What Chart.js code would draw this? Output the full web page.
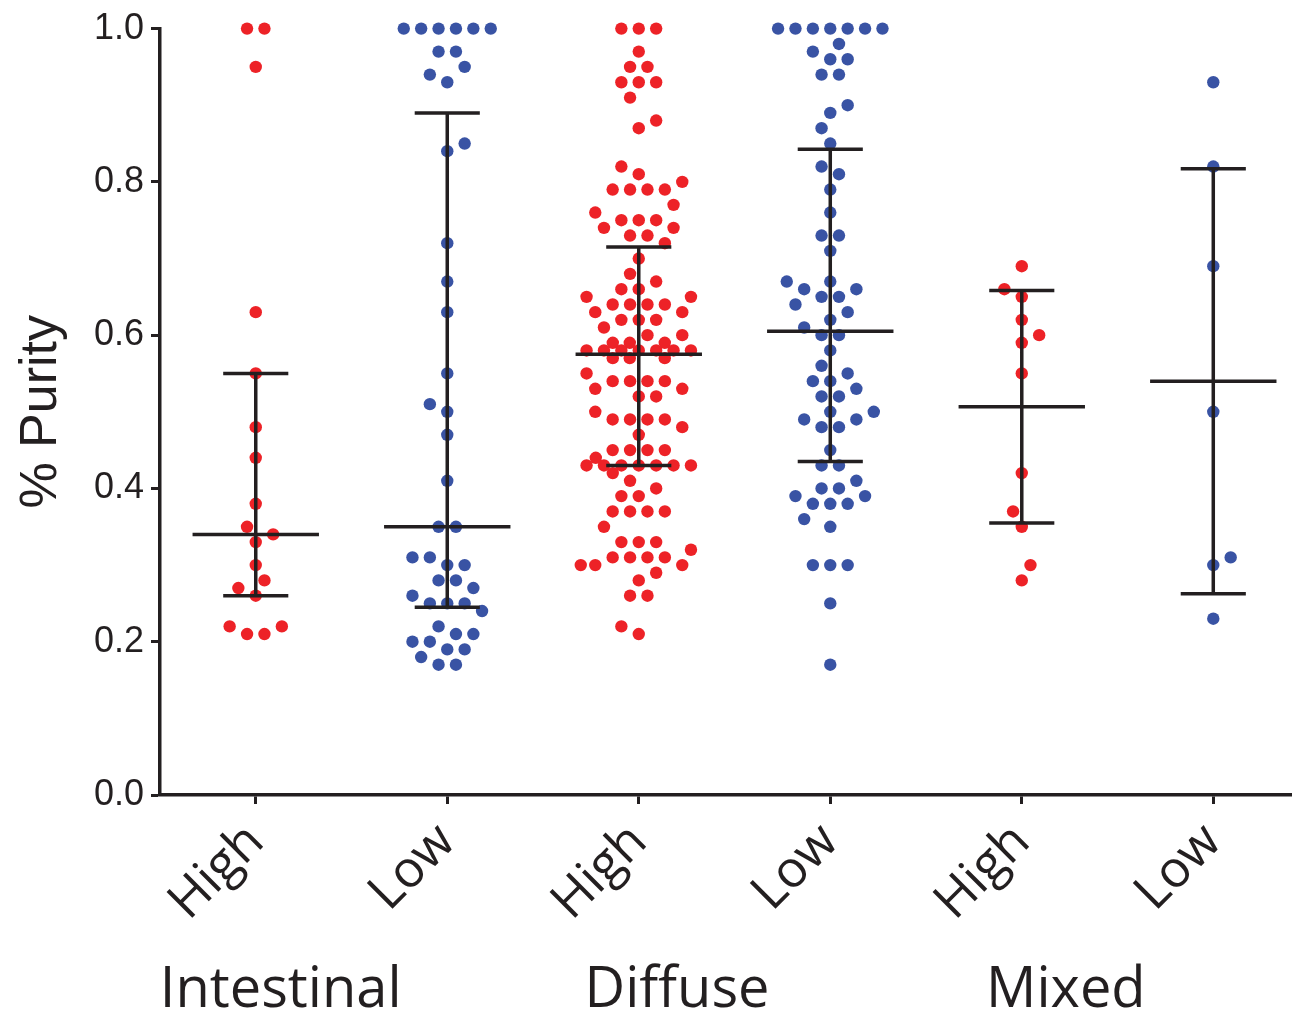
<!DOCTYPE html>
<html>
<head>
<meta charset="utf-8">
<title>% Purity by subtype</title>
<script src="https://cdn.jsdelivr.net/npm/chart.js@4.4.1/dist/chart.umd.min.js"></script>
<style>
  html, body { margin: 0; padding: 0; background: #fff; }
  #wrap { position: relative; width: 1298px; height: 1016px; }
</style>
</head>
<body>
<div id="wrap"><canvas id="chart"></canvas></div>
<script>
// categories on the x axis and the subtype each pair belongs to
const categories = ["High", "Low", "High", "Low", "High", "Low"];
const groupNames = ["Intestinal", "Diffuse", "Mixed"];
const yTicks = [0, 0.2, 0.4, 0.6, 0.8, 1.0];

// % purity, one value per sample
const intestinalHigh = [1.0, 1.0, 0.95, 0.63, 0.55, 0.48, 0.44, 0.38, 0.35, 0.34, 0.33,
  0.30, 0.28, 0.27, 0.26, 0.22, 0.22, 0.21, 0.21];
const intestinalLow = [1.0, 1.0, 1.0, 1.0, 1.0, 1.0, 0.97, 0.97, 0.95, 0.94, 0.93, 0.85,
  0.84, 0.72, 0.67, 0.63, 0.55, 0.51, 0.50, 0.47, 0.41, 0.35, 0.35, 0.31, 0.31, 0.30,
  0.30, 0.28, 0.28, 0.27, 0.26, 0.25, 0.25, 0.25, 0.24, 0.22, 0.21, 0.21, 0.20, 0.20,
  0.19, 0.19, 0.18, 0.17, 0.17];
const diffuseHigh = [1.0, 1.0, 1.0, 0.97, 0.95, 0.95, 0.93, 0.93, 0.93, 0.91, 0.88, 0.87,
  0.82, 0.81, 0.80, 0.79, 0.79, 0.79, 0.79, 0.77, 0.76, 0.75, 0.75, 0.75, 0.74, 0.74,
  0.73, 0.73, 0.72, 0.70, 0.68, 0.67, 0.66, 0.66, 0.65, 0.65, 0.64, 0.64, 0.64, 0.64,
  0.63, 0.63, 0.62, 0.62, 0.62, 0.61, 0.60, 0.60, 0.59, 0.59, 0.59,
  0.58, 0.58, 0.58, 0.58, 0.58, 0.58, 0.58, 0.57, 0.57, 0.57, 0.55, 0.54, 0.54, 0.54,
  0.54, 0.53, 0.53, 0.52, 0.52, 0.50, 0.49, 0.49, 0.49, 0.49, 0.48, 0.47, 0.45, 0.45,
  0.45, 0.45, 0.44, 0.43, 0.43, 0.43, 0.43, 0.43, 0.43, 0.43, 0.42, 0.41, 0.40, 0.39,
  0.39, 0.37, 0.37, 0.37, 0.37, 0.35, 0.33, 0.33, 0.33, 0.32, 0.31, 0.31, 0.31, 0.31,
  0.30, 0.30, 0.30, 0.29, 0.28, 0.26, 0.26, 0.22, 0.21];
const diffuseLow = [1.0, 1.0, 1.0, 1.0, 1.0, 1.0, 1.0, 0.98, 0.97, 0.96, 0.96, 0.94, 0.94,
  0.90, 0.89, 0.87, 0.85, 0.82, 0.81, 0.79, 0.76, 0.73, 0.73, 0.71, 0.67, 0.67, 0.66,
  0.66, 0.65, 0.65, 0.64, 0.63, 0.62, 0.61, 0.60, 0.60, 0.58, 0.56, 0.55, 0.54, 0.54,
  0.53, 0.52, 0.52, 0.50, 0.50, 0.49, 0.49, 0.48, 0.48, 0.45, 0.43, 0.43, 0.41, 0.40,
  0.40, 0.39, 0.39, 0.38, 0.38, 0.38, 0.36, 0.35, 0.30, 0.30, 0.30, 0.25, 0.17];
const mixedHigh = [0.69, 0.66, 0.65, 0.62, 0.60, 0.59, 0.55, 0.42, 0.37, 0.35, 0.30, 0.28];
const mixedLow = [0.93, 0.82, 0.69, 0.50, 0.31, 0.30, 0.23];

const series = [intestinalHigh, intestinalLow, diffuseHigh, diffuseLow, mixedHigh, mixedLow];
// the figure shows median + IQR for the first two subtypes, mean + SD for Mixed
const summaryKind = ["median", "median", "median", "median", "mean", "mean"];

const RED = "#ed2227";
const BLUE = "#3953a4";
const INK = "#231f20";
const dotColors = [RED, BLUE, RED, BLUE, RED, BLUE];

const DOT_R = 6.2;
const DOT_STEP = 17.4;   // centre-to-centre spacing of touching dots, px
const MAX_HALF = 58;     // widest a swarm may get either side of its tick, px
const MID_HALF = 0.33;   // half width of the centre line, category units
const CAP_HALF = 0.17;   // half width of the whisker caps

function quantile(asc, p) {
    const n = asc.length;
    const pos = (n + 1) * p;
    const lo = Math.floor(pos);
    if (lo < 1) return asc[0];
    if (lo >= n) return asc[n - 1];
    return asc[lo - 1] + (pos - lo) * (asc[lo] - asc[lo - 1]);
}

function summarize(values, kind) {
    const asc = [...values].sort((a, b) => a - b);
    if (kind === "mean") {
        const m = asc.reduce((s, v) => s + v, 0) / asc.length;
        const sd = Math.sqrt(asc.reduce((s, v) => s + (v - m) ** 2, 0) / (asc.length - 1));
        return { mid: m, lo: m - sd, hi: m + sd };
    }
    return { mid: quantile(asc, 0.5), lo: quantile(asc, 0.25), hi: quantile(asc, 0.75) };
}

// beeswarm: pixel offsets from the column centre so dots do not overlap
function swarmOffsets(pys) {
    const half = DOT_STEP / 2;
    const ids = pys.map((_, i) => i).sort((a, b) => pys[b] - pys[a]);
    const runs = [];
    for (const id of ids) {
        const last = runs[runs.length - 1];
        if (last && Math.abs(pys[last[0]] - pys[id]) < 0.5) last.push(id);
        else runs.push([id]);
    }
    runs.sort((a, b) => b.length - a.length || pys[b[0]] - pys[a[0]]);

    const placed = [];
    const out = new Array(pys.length).fill(0);
    let side = 1;
    const clear = (x, y) => placed.every((p) => Math.hypot(p.x - x, p.y - y) >= DOT_STEP - 0.5);

    for (const run of runs) {
        const y = pys[run[0]];
        const block = run.map((_, t) => (t - (run.length - 1) / 2) * DOT_STEP);
        if (run.length > 1 && block[block.length - 1] <= MAX_HALF && block.every((x) => clear(x, y))) {
            run.forEach((id, t) => {
                out[id] = block[t];
                placed.push({ x: block[t], y });
            });
            continue;
        }
        for (const id of run) {
            let x = null;
            for (let s = 0; s * half <= MAX_HALF && x === null; s++) {
                const cands = s === 0 ? [0] : [side * s * half, -side * s * half];
                const ok = cands.filter((c) => clear(c, y));
                if (ok.length) {
                    x = ok[0];
                    if (ok.length === 2) side = -side;
                }
            }
            if (x === null) {
                let best = -1;
                for (let c = -MAX_HALF; c <= MAX_HALF; c += 1) {
                    const d = Math.min(...placed.map((p) => Math.hypot(p.x - c, p.y - y)));
                    if (d > best + 1e-6 || (Math.abs(d - best) < 1e-6 && Math.abs(c) < Math.abs(x))) {
                        best = d;
                        x = c;
                    }
                }
            }
            out[id] = x;
            placed.push({ x, y });
        }
    }
    return out;
}

function summaryPoints() {
    const pts = [];
    series.forEach((vals, i) => {
        const s = summarize(vals, summaryKind[i]);
        pts.push({ x: i - MID_HALF, y: s.mid }, { x: i + MID_HALF, y: s.mid }, { x: i, y: null });
        pts.push({ x: i - CAP_HALF, y: s.hi }, { x: i + CAP_HALF, y: s.hi }, { x: i, y: null });
        pts.push({ x: i - CAP_HALF, y: s.lo }, { x: i + CAP_HALF, y: s.lo }, { x: i, y: null });
        pts.push({ x: i, y: s.hi }, { x: i, y: s.lo }, { x: i, y: null });
    });
    return pts;
}

const groupLabels = {
    id: "groupLabels",
    afterDraw(chart, args, opts) {
        const { ctx, scales } = chart;
        ctx.save();
        ctx.font = opts.font;
        ctx.fillStyle = INK;
        ctx.textAlign = "center";
        ctx.textBaseline = "alphabetic";
        groupNames.forEach((name, g) => {
            ctx.fillText(name, scales.x.getPixelForValue(2 * g + opts.shift[g]), opts.baseline);
        });
        ctx.restore();
    },
};

const dotSets = series.map((vals, i) => ({
    label: categories[i],
    data: vals.map((v) => ({ x: i, y: v })),
    backgroundColor: dotColors[i],
    borderWidth: 0,
    pointRadius: DOT_R,
    pointHoverRadius: DOT_R,
    clip: false,
    order: 2,
}));

const chart = new Chart(document.getElementById("chart"), {
    type: "scatter",
    data: {
        datasets: [
            {
                label: "summary",
                data: summaryPoints(),
                showLine: true,
                spanGaps: false,
                borderColor: INK,
                borderWidth: 3.5,
                borderCapStyle: "butt",
                pointRadius: 0,
                pointHoverRadius: 0,
                clip: false,
                order: 0,
            },
            ...dotSets,
        ],
    },
    options: {
        responsive: true,
        maintainAspectRatio: false,
        animation: false,
        events: [],
        layout: { padding: { top: 26, right: 0, bottom: 0, left: 0 } },
        plugins: {
            legend: { display: false },
            tooltip: { enabled: false },
            groupLabels: {
                font: '56px "Open Sans"',
                baseline: 1007,
                shift: [0.13, 0.2, 0.23],
            },
        },
        scales: {
            x: {
                type: "linear",
                min: -0.5,
                max: 5.41,
                afterBuildTicks: (scale) => {
                    scale.ticks = categories.map((_, i) => ({ value: i }));
                },
                afterFit: (scale) => {
                    scale.height = 221;
                },
                border: { display: true, color: INK, width: 3.5 },
                grid: {
                    drawOnChartArea: false,
                    drawTicks: true,
                    tickLength: 9,
                    tickWidth: 3,
                    tickColor: INK,
                    offset: false,
                },
                ticks: {
                    autoSkip: false,
                    minRotation: 45,
                    maxRotation: 45,
                    padding: 8,
                    color: INK,
                    font: { family: "Open Sans", size: 51 },
                    callback: (v) => categories[v] ?? "",
                },
            },
            y: {
                min: 0,
                max: 1,
                afterBuildTicks: (scale) => {
                    scale.ticks = yTicks.map((v) => ({ value: v }));
                },
                afterFit: (scale) => {
                    scale.width = 160;
                },
                border: { display: true, color: INK, width: 3.5 },
                grid: {
                    drawOnChartArea: false,
                    drawTicks: true,
                    tickLength: 9,
                    tickWidth: 3,
                    tickColor: INK,
                },
                ticks: {
                    padding: 7,
                    color: INK,
                    font: { family: "Liberation Sans", size: 36 },
                    callback: (v) => Number(v).toFixed(1),
                },
                title: {
                    display: true,
                    text: "% Purity",
                    color: INK,
                    font: { family: "Liberation Sans", size: 52 },
                    padding: { top: 10, bottom: 0 },
                },
            },
        },
    },
    plugins: [groupLabels],
});

// spread the dots once the scales exist
const xs = chart.scales.x;
const ys = chart.scales.y;
series.forEach((vals, i) => {
    const cx = xs.getPixelForValue(i);
    const offs = swarmOffsets(vals.map((v) => ys.getPixelForValue(v)));
    chart.data.datasets[i + 1].data = vals.map((v, k) => ({ x: xs.getValueForPixel(cx + offs[k]), y: v }));
});
chart.update("none");
</script>
</body>
</html>
